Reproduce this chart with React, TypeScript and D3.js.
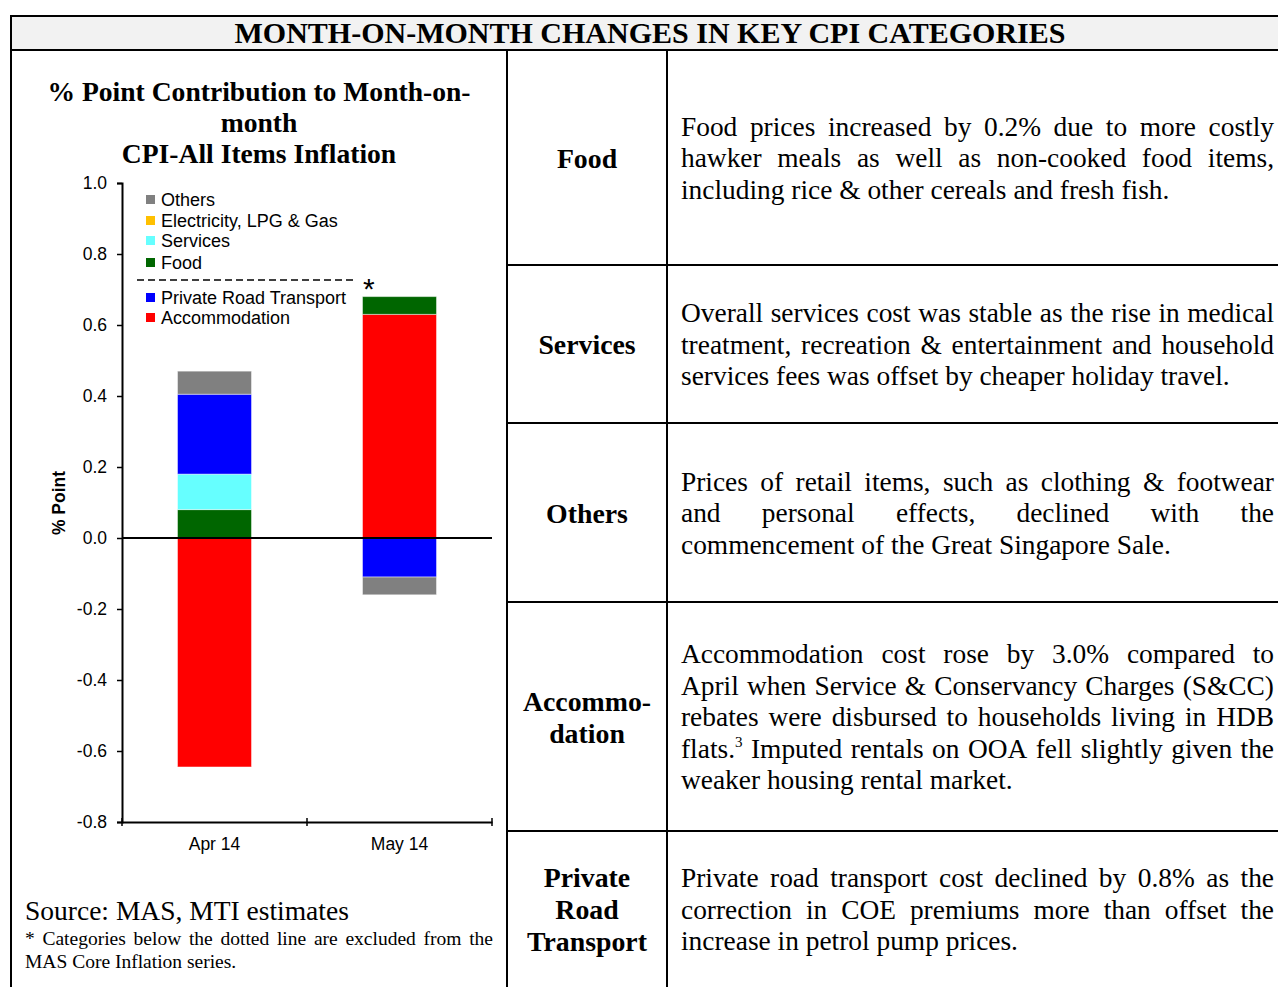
import React, { useEffect, useRef } from "react";
import * as d3 from "d3";

// chart data (% point contribution to m-o-m CPI-All Items inflation)
const months = ["Apr 14", "May 14"];
const categories = [
  "Accommodation",
  "Food",
  "Services",
  "Electricity, LPG & Gas",
  "Private Road Transport",
  "Others",
];
const accommodation = [-0.645, 0.63];
const food = [0.08, 0.05];
const services = [0.1, 0.0];
const electricity = [0.0, 0.0];
const privateRoad = [0.225, -0.11];
const others = [0.065, -0.05];
const yTicks = [-0.8, -0.6, -0.4, -0.2, 0, 0.2, 0.4, 0.6, 0.8, 1.0];

const colors: Record<string, string> = {
  Accommodation: "#ff0000",
  Food: "#006600",
  Services: "#66ffff",
  "Electricity, LPG & Gas": "#ffc000",
  "Private Road Transport": "#0000ff",
  Others: "#808080",
};

// table text
const rowLabels = [
  ["Food"],
  ["Services"],
  ["Others"],
  ["Accommo-", "dation"],
  ["Private", "Road", "Transport"],
];
const rowTexts = [
  [
    "Food prices increased by 0.2% due to more costly",
    "hawker meals as well as non-cooked food items,",
    "including rice & other cereals and fresh fish.",
  ],
  [
    "Overall services cost was stable as the rise in medical",
    "treatment, recreation & entertainment and household",
    "services fees was offset by cheaper holiday travel.",
  ],
  [
    "Prices of retail items, such as clothing & footwear",
    "and personal effects, declined with the",
    "commencement of the Great Singapore Sale.",
  ],
  [
    "Accommodation cost rose by 3.0% compared to",
    "April when Service & Conservancy Charges (S&CC)",
    "rebates were disbursed to households living in HDB",
    "flats.^3 Imputed rentals on OOA fell slightly given the",
    "weaker housing rental market.",
  ],
  [
    "Private road transport cost declined by 0.8% as the",
    "correction in COE premiums more than offset the",
    "increase in petrol pump prices.",
  ],
];

const SERIF = "'Liberation Serif', 'Times New Roman', serif";
const SANS = "'Liberation Sans', Arial, sans-serif";

export default function App() {
  const ref = useRef<SVGSVGElement | null>(null);

  useEffect(() => {
    draw();
  }, []);

  const draw = () => {
    const svg = d3.select(ref.current);
    svg.selectAll("*").remove();

    // ---- table frame ----
    const rowLines = [50, 265, 423, 602, 831, 987];
    svg.append("rect").attr("x", 11).attr("y", 16).attr("width", 1280).attr("height", 34).attr("fill", "#f2f2f2");
    const frame = svg.append("g").attr("stroke", "#000").attr("stroke-width", 2);
    frame.append("line").attr("x1", 11).attr("x2", 1278).attr("y1", 16).attr("y2", 16);
    frame.append("line").attr("x1", 11).attr("x2", 1278).attr("y1", 50).attr("y2", 50);
    frame.append("line").attr("x1", 11).attr("x2", 11).attr("y1", 15).attr("y2", 987);
    frame.append("line").attr("x1", 507).attr("x2", 507).attr("y1", 50).attr("y2", 987);
    frame.append("line").attr("x1", 667).attr("x2", 667).attr("y1", 50).attr("y2", 987);
    rowLines.slice(1, 5).forEach((y) => {
      frame.append("line").attr("x1", 507).attr("x2", 1278).attr("y1", y).attr("y2", y);
    });

    svg
      .append("text")
      .attr("x", 650)
      .attr("y", 43)
      .attr("text-anchor", "middle")
      .attr("font-family", SERIF)
      .attr("font-weight", "bold")
      .attr("font-size", 30)
      .text("MONTH-ON-MONTH CHANGES IN KEY CPI CATEGORIES");

    // ---- row labels and justified paragraphs ----
    const lineH = 31.5;
    const textLeft = 681;
    const textRight = 1274;
    rowLabels.forEach((lbl, i) => {
      const mid = (rowLines[i] + rowLines[i + 1]) / 2;
      const top = mid - ((lbl.length - 1) * 32) / 2 + 10;
      lbl.forEach((s, j) => {
        svg
          .append("text")
          .attr("x", 587)
          .attr("y", top + j * 32)
          .attr("text-anchor", "middle")
          .attr("font-family", SERIF)
          .attr("font-weight", "bold")
          .attr("font-size", 27.8)
          .text(s);
      });
    });

    const drawJustified = (lines: string[], x0: number, x1: number, y0: number, lh: number, size: number) => {
      lines.forEach((line, li) => {
        const words = line.split(" ");
        const g = svg.append("g").attr("font-family", SERIF).attr("font-size", size);
        const nodes = words.map((w) => {
          const t = g.append("text").attr("y", y0 + li * lh);
          if (w.includes("^")) {
            const [base, sup] = w.split("^");
            t.append("tspan").text(base);
            t.append("tspan").attr("font-size", size * 0.55).attr("dy", -size * 0.38).text(sup);
          } else {
            t.text(w);
          }
          return t;
        });
        const widths = nodes.map((t) => (t.node() as SVGTextElement).getComputedTextLength());
        const total = d3.sum(widths);
        const last = li === lines.length - 1;
        const gap = last || words.length < 2 ? size * 0.25 : (x1 - x0 - total) / (words.length - 1);
        let x = x0;
        nodes.forEach((t, k) => {
          t.attr("x", x);
          x += widths[k] + gap;
        });
      });
    };

    rowTexts.forEach((lines, i) => {
      const mid = (rowLines[i] + rowLines[i + 1]) / 2;
      const first = mid - ((lines.length - 1) * lineH) / 2 + 9.5;
      drawJustified(lines, textLeft, textRight, first, lineH, 27.4);
    });

    // ---- chart title ----
    ["% Point Contribution to Month-on-", "month", "CPI-All Items Inflation"].forEach((s, i) => {
      svg
        .append("text")
        .attr("x", 259)
        .attr("y", 101 + i * 31)
        .attr("text-anchor", "middle")
        .attr("font-family", SERIF)
        .attr("font-weight", "bold")
        .attr("font-size", 27.6)
        .text(s);
    });

    // ---- stacked bars ----
    const table = months.map((m, i) => ({
      month: m,
      Accommodation: accommodation[i],
      Food: food[i],
      Services: services[i],
      "Electricity, LPG & Gas": electricity[i],
      "Private Road Transport": privateRoad[i],
      Others: others[i],
    }));

    const xScale = d3.scaleBand().domain(months).range([122, 492]).paddingInner(0.6).paddingOuter(0.3);
    const yScale = d3.scaleLinear().domain([-0.8, 1.0]).range([822, 183]);

    const series = d3
      .stack<any>()
      .keys(categories)
      .offset(d3.stackOffsetDiverging)(table);

    const bars = svg.append("g");
    series.forEach((s) => {
      bars
        .selectAll(null)
        .data(s.filter((d) => d[1] !== d[0]))
        .enter()
        .append("rect")
        .attr("x", (d) => xScale(d.data.month) as number)
        .attr("width", xScale.bandwidth())
        .attr("y", (d) => yScale(Math.max(d[0], d[1])))
        .attr("height", (d) => Math.abs(yScale(d[0]) - yScale(d[1])))
        .attr("fill", colors[s.key])
        .attr("stroke", "#ffffff")
        .attr("stroke-opacity", 0.45)
        .attr("stroke-width", 1);
    });

    // y axis
    const yAxis = svg
      .append("g")
      .attr("transform", "translate(122,0)")
      .call(
        d3
          .axisLeft(yScale)
          .tickValues(yTicks)
          .tickSize(5)
          .tickFormat((d) => Number(d).toFixed(1))
      );
    yAxis.select(".domain").attr("stroke-width", 2);
    yAxis.selectAll("line").attr("stroke-width", 1.5);
    yAxis
      .selectAll("text")
      .attr("font-family", SANS)
      .attr("font-size", 17.5)
      .attr("fill", "#000")
      .attr("x", -15);

    // bottom axis at -0.8 with category separators
    const xAxis = svg
      .append("g")
      .attr("transform", `translate(0,${yScale(-0.8)})`)
      .call(d3.axisBottom(xScale).tickSize(0).tickSizeOuter(0));
    xAxis.select(".domain").attr("stroke-width", 2);
    xAxis
      .selectAll("text")
      .attr("font-family", SANS)
      .attr("font-size", 17.5)
      .attr("fill", "#000")
      .attr("dy", "1.45em");
    const step = xScale.step();
    [122, 122 + step, 122 + 2 * step].forEach((x) => {
      svg
        .append("line")
        .attr("x1", x)
        .attr("x2", x)
        .attr("y1", yScale(-0.8) - 4)
        .attr("y2", yScale(-0.8) + 4)
        .attr("stroke", "#000")
        .attr("stroke-width", 1.5);
    });

    // zero line
    svg
      .append("line")
      .attr("x1", 122)
      .attr("x2", 492)
      .attr("y1", yScale(0))
      .attr("y2", yScale(0))
      .attr("stroke", "#000")
      .attr("stroke-width", 2);

    svg
      .append("text")
      .attr("transform", `translate(65,503) rotate(-90)`)
      .attr("text-anchor", "middle")
      .attr("font-family", SANS)
      .attr("font-weight", "bold")
      .attr("font-size", 17.5)
      .text("% Point");

    // ---- legend ----
    const legendTop = ["Others", "Electricity, LPG & Gas", "Services", "Food"];
    const legendBottom = ["Private Road Transport", "Accommodation"];
    const legend = svg.append("g").attr("font-family", SANS).attr("font-size", 18);
    const addItem = (name: string, y: number) => {
      legend.append("rect").attr("x", 146).attr("y", y - 11).attr("width", 9).attr("height", 9).attr("fill", colors[name]);
      legend.append("text").attr("x", 161).attr("y", y).text(name);
    };
    [206, 227, 247, 269].forEach((y, i) => addItem(legendTop[i], y));
    [304, 324].forEach((y, i) => addItem(legendBottom[i], y));
    legend
      .append("line")
      .attr("x1", 137)
      .attr("x2", 356)
      .attr("y1", 280)
      .attr("y2", 280)
      .attr("stroke", "#000")
      .attr("stroke-width", 1.5)
      .attr("stroke-dasharray", "7,4");
    legend.append("text").attr("x", 363).attr("y", 299).attr("font-size", 30).text("*");

    // ---- source ----
    svg
      .append("text")
      .attr("x", 25)
      .attr("y", 920)
      .attr("font-family", SERIF)
      .attr("font-size", 27.5)
      .text("Source: MAS, MTI estimates");
    drawJustified(
      ["* Categories below the dotted line are excluded from the", "MAS Core Inflation series."],
      25,
      493,
      945,
      23,
      19.5
    );
  };

  return (
    <svg
      ref={ref}
      width={1278}
      height={987}
      style={{ position: "absolute", left: 0, top: 0, background: "#fff" }}
    />
  );
}
